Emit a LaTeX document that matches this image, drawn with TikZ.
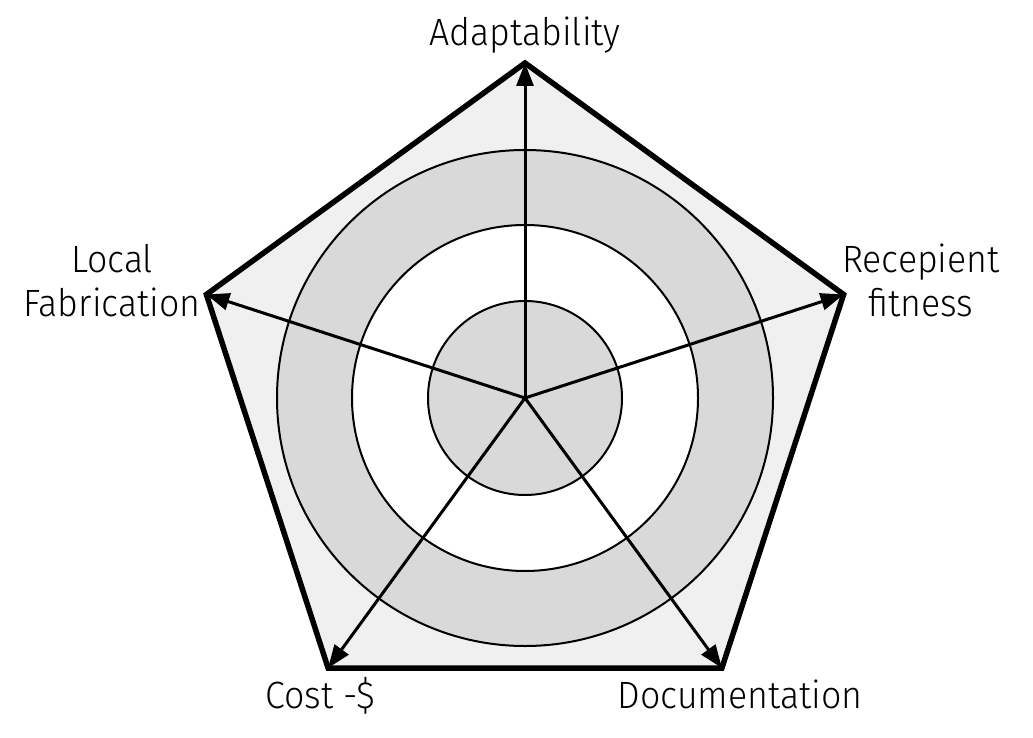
\documentclass[tikz,border=0pt]{standalone}
\usepackage{fontspec}
\setmainfont{Fira Sans}[UprightFont={* Light},FakeStretch=0.94]
\usetikzlibrary{arrows.meta}
\begin{document}
\begin{tikzpicture}[x=1pt,y=-1pt,
  axis/.style={line width=3pt,-{Triangle[length=23pt,width=17pt]}},
  lbl/.style={font=\fontsize{38}{44}\selectfont,align=center,inner sep=0pt}]
\useasboundingbox (0,0) rectangle (1033,738);
\coordinate (c) at (525,398);
\coordinate (pA) at (525,63);
\coordinate (pR) at (843.6,294.5);
\coordinate (pD) at (721.9,668);
\coordinate (pC) at (328.1,668);
\coordinate (pL) at (206.4,294.5);
\fill[fill=black!6] (pA) -- (pR) -- (pD) -- (pC) -- (pL) -- cycle;
\fill[black!15] (c) circle (248);
\fill[white] (c) circle (173);
\fill[black!15] (c) circle (97);
\draw[line width=2pt] (c) circle (248) (c) circle (173) (c) circle (97);
\draw[line width=5.5pt,line join=miter] (pA) -- (pR) -- (pD) -- (pC) -- (pL) -- cycle;
\foreach \p in {pA,pR,pD,pC,pL} \draw[axis] (c) -- (\p);
\node[lbl,anchor=base] (tA) at (525,46) {Adaptability};
\node[lbl,anchor=base] (tR) at (921,316) {Recepient\\fitness};
\node[lbl,anchor=base] (tL) at (112,316) {Local\\Fabrication};
\node[lbl,anchor=base] (tC) at (320,708) {Cost -\$};
\node[lbl,anchor=base] (tD) at (740,708) {Documentation};
\end{tikzpicture}
\end{document}
